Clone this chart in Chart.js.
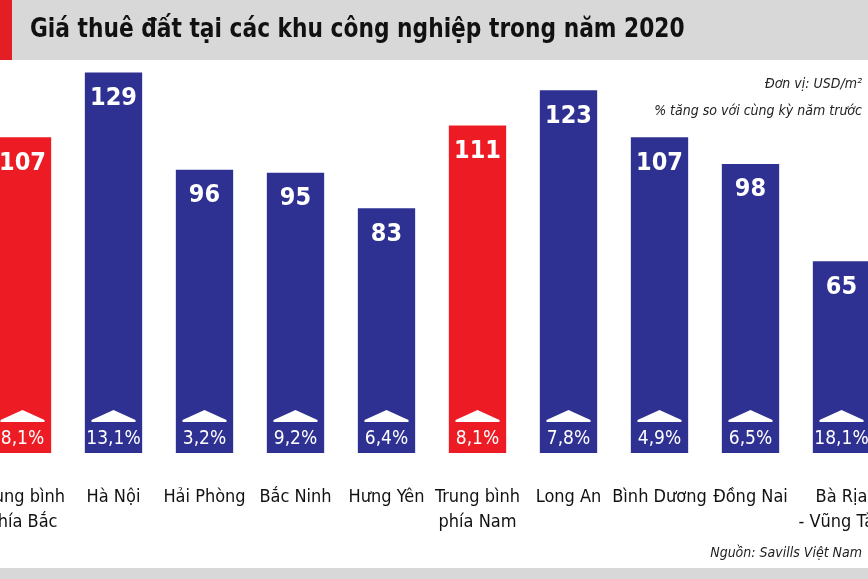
<!DOCTYPE html>
<html><head><meta charset="utf-8">
<script src="https://cdn.jsdelivr.net/npm/chart.js@4"></script>
<style>
body{margin:0;width:868px;height:579px;overflow:hidden;background:#fff;position:relative;font-family:"DejaVu Sans Condensed","DejaVu Sans",sans-serif}
#tb{position:absolute;left:0;top:0;width:868px;height:60px;background:#d8d8d8}
#rb{position:absolute;left:0;top:0;width:12px;height:60px;background:#e31e24}
#tt{position:absolute;left:30px;top:13px;font-weight:bold;font-size:26px;color:#111;white-space:nowrap;z-index:2;transform:scaleX(0.93);transform-origin:left}
#bb{position:absolute;left:0;top:568px;width:868px;height:11px;background:#d8d8d8}
.n{position:absolute;font-style:italic;font-size:14px;color:#222;white-space:nowrap;text-align:right;right:6px;z-index:2}
canvas{position:absolute;left:-23px;top:0}
</style></head><body>
<div id="tb"></div><div id="rb"></div>
<div id="tt">Giá thuê đất tại các khu công nghiệp trong năm 2020</div>
<div id="bb"></div>
<canvas id="c" width="910" height="579"></canvas>
<div class="n" style="top:75px">Đơn vị: USD/m²</div>
<div class="n" style="top:102px">% tăng so với cùng kỳ năm trước</div>
<div class="n" style="top:544px">Nguồn: Savills Việt Nam</div>
<script>
const categories=[["Trung bình","phía Bắc"],["Hà Nội"],["Hải Phòng"],["Bắc Ninh"],["Hưng Yên"],["Trung bình","phía Nam"],["Long An"],["Bình Dương"],["Đồng Nai"],["Bà Rịa","- Vũng Tàu"]];
const prices=[107,129,96,95,83,111,123,107,98,65];
const growth=["8,1%","13,1%","3,2%","9,2%","6,4%","8,1%","7,8%","4,9%","6,5%","18,1%"];
const isAverage=[true,false,false,false,false,true,false,false,false,false];
const F='"DejaVu Sans Condensed","DejaVu Sans",sans-serif';
const deco={id:'deco',afterDatasetsDraw(ch){
 const c=ch.ctx,meta=ch.getDatasetMeta(0),base=ch.chartArea.bottom;
 c.save();c.textAlign='center';
 meta.data.forEach((b,i)=>{
  c.fillStyle='#fff';c.font='bold 25px '+F;c.textBaseline='middle';
  c.fillText(prices[i],b.x,b.y+26);
  c.beginPath();c.moveTo(b.x-22,base-33);c.lineTo(b.x,base-43);c.lineTo(b.x+22,base-33);c.closePath();c.fill();
  c.fillRect(b.x-22,base-33,44,2);
  c.font='19px '+F;c.fillText(growth[i],b.x,base-14);
  c.fillStyle='#111';c.font='18px '+F;
  categories[i].forEach((l,k)=>c.fillText(l,b.x,base+44+k*25));
 });
 c.restore();}};
new Chart(document.getElementById('c'),{type:'bar',
 data:{labels:categories,datasets:[{data:prices,backgroundColor:isAverage.map(a=>a?'#ed1c24':'#2e3192'),barPercentage:0.63,categoryPercentage:1}]},
 options:{responsive:false,animation:false,devicePixelRatio:1,
  layout:{padding:{top:40,bottom:126,left:0,right:0}},
  plugins:{legend:{display:false},tooltip:{enabled:false}},
  scales:{x:{display:false},y:{display:false,min:0,max:140}}},
 plugins:[deco]});
</script></body></html>
